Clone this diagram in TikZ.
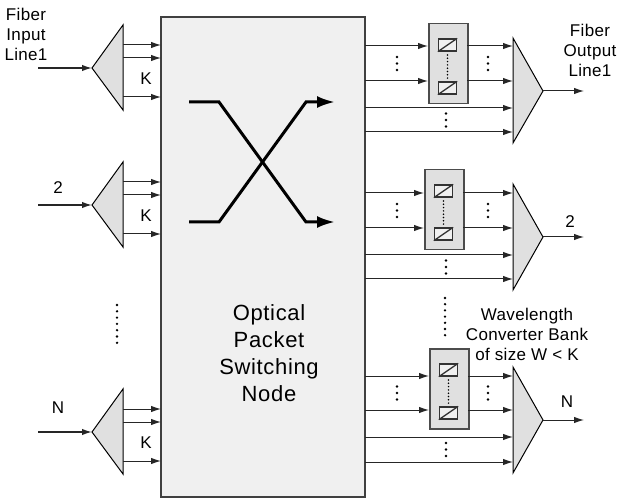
\documentclass[tikz,border=0pt]{standalone}
\usepackage{fontspec}
\setmainfont{Liberation Sans}
\newfontfamily\widesans[LetterSpace=3]{Liberation Sans}
\newfontfamily\midsans[LetterSpace=2]{Liberation Sans}
\usetikzlibrary{arrows.meta}
\begin{document}
\begin{tikzpicture}[x=1pt,y=-1pt,
  lbl/.style={font=\midsans\fontsize{17}{20}\selectfont, align=center, inner sep=0pt},
  big/.style={font=\widesans\fontsize{22}{27}\selectfont, align=center, inner sep=0pt},
  arr/.style={-{Latex[length=10pt,width=6.5pt]}, line width=1pt, draw=black!85},
  inarr/.style={arr, line width=1.5pt},
  tri/.style={fill=black!12, draw=black, line width=1pt, line join=miter},
  bankbox/.style={fill=black!12, draw=black!70, line width=1.5pt, inner sep=0pt, minimum width=39pt, minimum height=80pt, anchor=north west},
  icon/.style={draw=black!80, line width=1.3pt, fill=black!6, inner sep=0pt, minimum width=18pt, minimum height=12pt},
  crossarr/.style={line width=3pt, -{Latex[length=18pt,width=12pt]}, line join=miter}
]
\useasboundingbox (0,0) rectangle (622,500);

% main switching node
\node[draw=black!75, fill=black!6, line width=1.5pt, minimum width=204pt, minimum height=480pt, inner sep=0pt] (sw) at (263,257) {};
\node[big] (swlab) at (269,353) {Optical\\Packet\\Switching\\Node};

% crossing inside the switch
\coordinate (xa1) at (189,102); \coordinate (xa2) at (219,102);
\coordinate (xa3) at (306,222); \coordinate (xa4) at (335,222);
\coordinate (xb1) at (189,222); \coordinate (xb2) at (219,222);
\coordinate (xb3) at (306,102); \coordinate (xb4) at (335,102);
\draw[crossarr] (xa1) -- (xa2) -- (xa3) -- (xa4);
\draw[crossarr] (xb1) -- (xb2) -- (xb3) -- (xb4);

% input demultiplexers
\foreach \c [count=\i] in {68,205,432}{
  \path[tri] (123,\c-43) -- (92,\c) -- (123,\c+42) -- cycle;
  \coordinate (dm\i) at (92,\c);
  \coordinate (src\i) at (38,\c);
  \draw[inarr] (src\i) -- (dm\i);
  \foreach \d [count=\j] in {-23,-10,29}{
    \coordinate (dmo\i\j) at (123,\c+\d);
    \coordinate (swi\i\j) at (161,\c+\d);
    \draw[arr] (dmo\i\j) -- (swi\i\j);
  }
  \node[lbl] (k\i) at (146,\c+11) {K};
}
\node[lbl] (inlab1) at (26,34) {Fiber\\Input\\Line1};
\node[lbl] (inlab2) at (58,188) {2};
\node[lbl] (inlab3) at (58,408) {N};

% vertical dots between inputs
\foreach \k in {0,...,6}{\fill (117,305+\k*6.3) circle (1.3pt);}

% output side
\foreach \bx/\by/\ya/\yb/\yc/\yd/\tt/\tb/\ty [count=\i] in
  {428/23/46/81/108/132/38/143/91,
   424/169/193/228/255/279/184/290/237,
   429/348/376/410/437/462/367/473/420}{
  \node[bankbox] (wcb\i) at (\bx,\by) {};
  \node[icon] (wa\i) at (\bx+19.5,\by+22) {};
  \draw[draw=black!80, line width=1.3pt] (wa\i.south west) -- (wa\i.north east);
  \node[icon] (wb\i) at (\bx+19.5,\by+65) {};
  \draw[draw=black!80, line width=1.3pt] (wb\i.south west) -- (wb\i.north east);
  \foreach \k in {0,...,7}{\fill (\bx+19.5,\by+32+\k*3.3) circle (0.85pt);}
  % arrows into converter bank
  \coordinate (swo\i a) at (365,\ya); \coordinate (wi\i a) at (\bx,\ya);
  \coordinate (swo\i b) at (365,\yb); \coordinate (wi\i b) at (\bx,\yb);
  \draw[arr] (swo\i a) -- (wi\i a);
  \draw[arr] (swo\i b) -- (wi\i b);
  % arrows from bank to multiplexer
  \coordinate (wo\i a) at (\bx+39,\ya); \coordinate (mi\i a) at (513,\ya);
  \coordinate (wo\i b) at (\bx+39,\yb); \coordinate (mi\i b) at (513,\yb);
  \draw[arr] (wo\i a) -- (mi\i a);
  \draw[arr] (wo\i b) -- (mi\i b);
  % direct arrows
  \coordinate (swo\i c) at (365,\yc); \coordinate (mi\i c) at (513,\yc);
  \coordinate (swo\i d) at (365,\yd); \coordinate (mi\i d) at (513,\yd);
  \draw[arr] (swo\i c) -- (mi\i c);
  \draw[arr] (swo\i d) -- (mi\i d);
  % multiplexer
  \path[tri] (513,\tt) -- (543,\ty) -- (513,\tb) -- cycle;
  \coordinate (mx\i) at (543,\ty); \coordinate (dst\i) at (584,\ty);
  \draw[arr] (mx\i) -- (dst\i);
  % dots
  \pgfmathsetmacro\ym{(\ya+\yb)/2}
  \pgfmathsetmacro\yn{(\yc+\yd)/2}
  \foreach \dy in {-6.5,0,6.5}{
    \fill (397,\ym+\dy) circle (1.3pt);
    \fill (488,\ym+\dy) circle (1.3pt);
    \fill (446,\yn+\dy) circle (1.3pt);
  }
}
\foreach \k in {0,...,6}{\fill (445,298+\k*6.2) circle (1.3pt);}

\node[lbl] (outlab1) at (590,50) {Fiber\\Output\\Line1};
\node[lbl] (outlab2) at (570,222) {2};
\node[lbl] (outlab3) at (567,402) {N};
\node[lbl] (wcblab) at (527,334) {Wavelength\\Converter Bank\\of size W < K};
\end{tikzpicture}
\end{document}
